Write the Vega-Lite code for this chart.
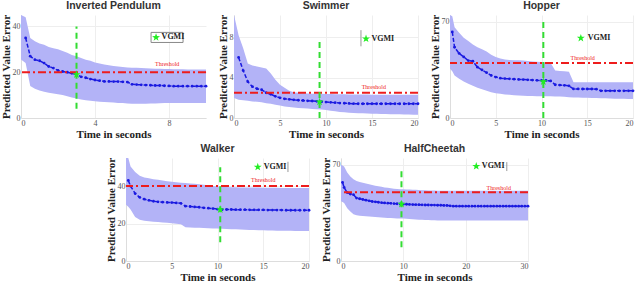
{
"$schema":"https://vega.github.io/schema/vega-lite/v6.json",
"padding":{"left":0,"top":0,"right":2,"bottom":2},
"background":"white",
"config":{
 "view":{"stroke":null},
 "axis":{"labelFont":"Liberation Serif","labelFontSize":8,"labelColor":"#555","labelPadding":1,"titleFont":"Liberation Serif","titleFontSize":11,"titleFontWeight":"bold","titleColor":"#222","titlePadding":1,"grid":true,"gridColor":"#eeeeee","ticks":false,"domainColor":"#dddddd"},
 "title":{"font":"Liberation Sans","fontSize":10.5,"fontWeight":"bold","color":"#333","offset":3}
},
"vconcat":[
{"hconcat":[
 {"width":185,"height":103,"title":"Inverted Pendulum",
  "data":{"values":[{"t":0,"lo":25.6,"hi":45},{"t":0.25,"m":35,"lo":24,"hi":44},{"t":0.5,"m":27,"lo":14,"hi":35},{"t":0.75,"m":25.5,"lo":12.8,"hi":33.5},{"t":1,"m":25,"lo":12,"hi":32.5},{"t":1.25,"m":24,"lo":11.5,"hi":32},{"t":1.5,"m":22.5,"lo":11,"hi":31},{"t":1.75,"m":21.8,"lo":10.7,"hi":30.5},{"t":2,"m":20.8,"lo":10.4,"hi":30},{"t":2.25,"m":20.3,"lo":10,"hi":29.3},{"t":2.5,"m":20,"lo":9.5,"hi":28.5},{"t":2.75,"m":19.5,"lo":9,"hi":27.5},{"t":3,"m":19,"lo":8.5,"hi":27},{"t":3.25,"m":18,"lo":8.1,"hi":26.2},{"t":3.5,"m":17.6,"lo":7.8,"hi":25.5},{"t":3.75,"m":17,"lo":7.5,"hi":25},{"t":4,"m":16.6,"lo":7.3,"hi":24.3},{"t":4.25,"m":16.3,"lo":7.1,"hi":23.8},{"t":4.5,"m":16,"lo":7,"hi":23.4},{"t":4.75,"m":16,"lo":6.9,"hi":23},{"t":5,"m":15.9,"lo":6.8,"hi":22.7},{"t":5.25,"m":15.9,"lo":6.6,"hi":22.5},{"t":5.5,"m":15.8,"lo":6.5,"hi":22.3},{"t":5.75,"m":15.7,"lo":6.3,"hi":22.1},{"t":6,"m":14.7,"lo":6.2,"hi":22},{"t":6.25,"m":14.6,"lo":6.2,"hi":21.9},{"t":6.5,"m":14.5,"lo":6.2,"hi":21.8},{"t":6.75,"m":14.4,"lo":6.2,"hi":21.7},{"t":7,"m":14.3,"lo":6.3,"hi":21.6},{"t":7.25,"m":14.2,"lo":6.3,"hi":21.5},{"t":7.5,"m":14.2,"lo":6.4,"hi":21.5},{"t":7.75,"m":14.1,"lo":6.5,"hi":21.4},{"t":8,"m":14,"lo":6.5,"hi":21.4},{"t":8.25,"m":13.9,"lo":6.6,"hi":21.3},{"t":8.5,"m":13.9,"lo":6.6,"hi":21.3},{"t":8.75,"m":13.9,"lo":6.6,"hi":21.3},{"t":9,"m":13.9,"lo":6.6,"hi":21.2},{"t":9.25,"m":13.9,"lo":6.6,"hi":21.2},{"t":9.5,"m":13.9,"lo":6.6,"hi":21.2},{"t":9.75,"m":13.9,"lo":6.6,"hi":21.2},{"t":10,"m":13.9,"lo":6.6,"hi":21.2}]},
  "layer":[
  {"mark":{"type":"area","color":"#b3b3f7"},"encoding":{"x":{"field":"t","type":"quantitative","scale":{"domain":[0,10],"nice":false},"axis":{"values":[0,2,4,6,8,10],"title":"Time in seconds"}},"y":{"field":"lo","type":"quantitative","scale":{"domain":[0,45],"nice":false},"axis":{"values":[0,5,10,15,20,25,30,35,40,45],"title":"Predicted Value Error"}},"y2":{"field":"hi"}}},
  {"transform":[{"filter":"isValid(datum.m)"}],"mark":{"type":"line","color":"#1a1ae0","strokeWidth":1.5,"strokeDash":[4,2]},"encoding":{"x":{"field":"t","type":"quantitative"},"y":{"field":"m","type":"quantitative"}}},
  {"transform":[{"filter":"isValid(datum.m)"}],"mark":{"type":"point","filled":true,"size":8,"color":"#1a1ae0","opacity":1},"encoding":{"x":{"field":"t","type":"quantitative"},"y":{"field":"m","type":"quantitative"}}},
  {"data":{"values":[{"thr":20}]},"mark":{"type":"rule","color":"#ee1c1c","strokeWidth":2,"strokeDash":[8,3,2,3]},"encoding":{"y":{"field":"thr","type":"quantitative"}}},
  {"data":{"values":[{"x":7.9,"y":23.8,"s":"Threshold"}]},"mark":{"type":"text","color":"#ee2222","fontSize":6,"font":"Liberation Serif"},"encoding":{"x":{"field":"x","type":"quantitative"},"y":{"field":"y","type":"quantitative"},"text":{"field":"s"}}},
  {"data":{"values":[{"x":3,"a":4,"b":40}]},"mark":{"type":"rule","color":"#33dd33","strokeWidth":2,"strokeDash":[6,4]},"encoding":{"x":{"field":"x","type":"quantitative"},"y":{"field":"a","type":"quantitative"},"y2":{"field":"b"}}},
  {"data":{"values":[{"x1":7.03,"x2":8.76,"y1":33,"y2":37.4}]},"mark":{"type":"rect","fill":"white","stroke":"#888888","strokeWidth":1},"encoding":{"x":{"field":"x1","type":"quantitative"},"x2":{"field":"x2"},"y":{"field":"y1","type":"quantitative"},"y2":{"field":"y2"}}},
  {"data":{"values":[{"x":3,"y":19},{"x":7.3,"y":35.2}]},"mark":{"type":"point","shape":"M0,-1L0.235,-0.324L0.951,-0.309L0.38,0.124L0.588,0.809L0,0.4L-0.588,0.809L-0.38,0.124L-0.951,-0.309L-0.235,-0.324Z","filled":true,"size":70,"color":"#22ee22","opacity":1},"encoding":{"x":{"field":"x","type":"quantitative"},"y":{"field":"y","type":"quantitative"}}},
  {"data":{"values":[{"x":7.6,"y":35.2,"s":"VGMI"}]},"mark":{"type":"text","align":"left","baseline":"middle","fontSize":8,"fontWeight":"bold","font":"Liberation Serif","color":"#222"},"encoding":{"x":{"field":"x","type":"quantitative"},"y":{"field":"y","type":"quantitative"},"text":{"field":"s"}}}
 ]},
 {"width":184,"height":103,"title":"Swimmer",
  "data":{"values":[{"t":0,"lo":1.97,"hi":10.2},{"t":0.5,"m":6.0,"lo":1.8,"hi":8.2},{"t":1,"m":4.7,"lo":1.75,"hi":6.9},{"t":1.5,"m":3.6,"lo":1.7,"hi":5.4},{"t":2,"m":3.1,"lo":1.64,"hi":5.2},{"t":2.5,"m":2.9,"lo":1.6,"hi":5.1},{"t":3,"m":2.8,"lo":1.55,"hi":5.0},{"t":3.5,"m":2.5,"lo":1.45,"hi":4.9},{"t":4,"m":2.35,"lo":1.4,"hi":4.4},{"t":4.5,"m":2.15,"lo":1.3,"hi":3.8},{"t":5,"m":2.0,"lo":1.25,"hi":3.3},{"t":5.5,"m":1.9,"lo":1.15,"hi":3.0},{"t":6,"m":1.85,"lo":1.1,"hi":2.7},{"t":6.5,"m":1.8,"lo":1.05,"hi":2.55},{"t":7,"m":1.76,"lo":1.0,"hi":2.5},{"t":7.5,"m":1.73,"lo":0.97,"hi":2.46},{"t":8,"m":1.7,"lo":0.93,"hi":2.43},{"t":8.5,"m":1.68,"lo":0.9,"hi":2.41},{"t":9,"m":1.65,"lo":0.87,"hi":2.4},{"t":9.5,"m":1.62,"lo":0.83,"hi":2.39},{"t":10,"m":1.58,"lo":0.78,"hi":2.38},{"t":10.5,"m":1.55,"lo":0.72,"hi":2.37},{"t":11,"m":1.52,"lo":0.66,"hi":2.36},{"t":11.5,"m":1.48,"lo":0.6,"hi":2.35},{"t":12,"m":1.46,"lo":0.56,"hi":2.34},{"t":12.5,"m":1.44,"lo":0.53,"hi":2.33},{"t":13,"m":1.42,"lo":0.5,"hi":2.33},{"t":13.5,"m":1.41,"lo":0.48,"hi":2.32},{"t":14,"m":1.41,"lo":0.46,"hi":2.32},{"t":14.5,"m":1.41,"lo":0.44,"hi":2.32},{"t":15,"m":1.41,"lo":0.42,"hi":2.31},{"t":15.5,"m":1.41,"lo":0.41,"hi":2.31},{"t":16,"m":1.41,"lo":0.4,"hi":2.31},{"t":16.5,"m":1.41,"lo":0.39,"hi":2.3},{"t":17,"m":1.41,"lo":0.38,"hi":2.3},{"t":17.5,"m":1.41,"lo":0.37,"hi":2.3},{"t":18,"m":1.41,"lo":0.36,"hi":2.3},{"t":18.5,"m":1.41,"lo":0.35,"hi":2.3},{"t":19,"m":1.41,"lo":0.34,"hi":2.3},{"t":19.5,"m":1.41,"lo":0.33,"hi":2.3},{"t":20,"m":1.41,"lo":0.33,"hi":2.3}]},
  "layer":[
  {"mark":{"type":"area","color":"#b3b3f7"},"encoding":{"x":{"field":"t","type":"quantitative","scale":{"domain":[0,20],"nice":false},"axis":{"values":[0,5,10,15,20],"title":"Time in seconds"}},"y":{"field":"lo","type":"quantitative","scale":{"domain":[0,10.2],"nice":false},"axis":{"values":[0,2,4,6,8],"title":"Predicted Value Error"}},"y2":{"field":"hi"}}},
  {"transform":[{"filter":"isValid(datum.m)"}],"mark":{"type":"line","color":"#1a1ae0","strokeWidth":1.5,"strokeDash":[4,2]},"encoding":{"x":{"field":"t","type":"quantitative"},"y":{"field":"m","type":"quantitative"}}},
  {"transform":[{"filter":"isValid(datum.m)"}],"mark":{"type":"point","filled":true,"size":8,"color":"#1a1ae0","opacity":1},"encoding":{"x":{"field":"t","type":"quantitative"},"y":{"field":"m","type":"quantitative"}}},
  {"data":{"values":[{"thr":2.5}]},"mark":{"type":"rule","color":"#ee1c1c","strokeWidth":2,"strokeDash":[8,3,2,3]},"encoding":{"y":{"field":"thr","type":"quantitative"}}},
  {"data":{"values":[{"x":15.2,"y":3.1,"s":"Threshold"}]},"mark":{"type":"text","color":"#ee2222","fontSize":6,"font":"Liberation Serif"},"encoding":{"x":{"field":"x","type":"quantitative"},"y":{"field":"y","type":"quantitative"},"text":{"field":"s"}}},
  {"data":{"values":[{"x":9.3,"a":0,"b":7.9}]},"mark":{"type":"rule","color":"#33dd33","strokeWidth":2,"strokeDash":[6,4]},"encoding":{"x":{"field":"x","type":"quantitative"},"y":{"field":"a","type":"quantitative"},"y2":{"field":"b"}}},
  {"data":{"values":[{"x":13.8,"a":7.1,"b":8.7}]},"mark":{"type":"rule","color":"#999999","strokeWidth":1},"encoding":{"x":{"field":"x","type":"quantitative"},"y":{"field":"a","type":"quantitative"},"y2":{"field":"b"}}},
  {"data":{"values":[{"x":9.3,"y":1.6},{"x":14.35,"y":7.85}]},"mark":{"type":"point","shape":"M0,-1L0.235,-0.324L0.951,-0.309L0.38,0.124L0.588,0.809L0,0.4L-0.588,0.809L-0.38,0.124L-0.951,-0.309L-0.235,-0.324Z","filled":true,"size":70,"color":"#22ee22","opacity":1},"encoding":{"x":{"field":"x","type":"quantitative"},"y":{"field":"y","type":"quantitative"}}},
  {"data":{"values":[{"x":14.95,"y":7.85,"s":"VGMI"}]},"mark":{"type":"text","align":"left","baseline":"middle","fontSize":8,"fontWeight":"bold","font":"Liberation Serif","color":"#222"},"encoding":{"x":{"field":"x","type":"quantitative"},"y":{"field":"y","type":"quantitative"},"text":{"field":"s"}}}
 ]},
 {"width":183,"height":103,"title":"Hopper",
  "data":{"values":[{"t":0,"lo":35.8,"hi":75},{"t":0.25,"m":62.7,"lo":34,"hi":74},{"t":0.5,"m":51.5,"lo":31,"hi":66},{"t":1,"m":47,"lo":28.5,"hi":62},{"t":1.5,"m":44.5,"lo":26.5,"hi":58.5},{"t":2,"m":41.8,"lo":25,"hi":56},{"t":2.5,"m":41.3,"lo":23.5,"hi":53.5},{"t":3,"m":37,"lo":22,"hi":51.5},{"t":3.5,"m":35,"lo":21,"hi":50},{"t":4,"m":33,"lo":19.8,"hi":48.5},{"t":4.5,"m":31,"lo":18.8,"hi":46},{"t":5,"m":29.8,"lo":18,"hi":44.5},{"t":5.5,"m":29,"lo":17.6,"hi":43.3},{"t":6,"m":28.7,"lo":17.2,"hi":42.6},{"t":6.5,"m":28.5,"lo":16.9,"hi":42.3},{"t":7,"m":28.3,"lo":16.6,"hi":42.1},{"t":7.5,"m":28.1,"lo":16.4,"hi":42},{"t":8,"m":28,"lo":16.2,"hi":41.8},{"t":8.5,"m":27.8,"lo":16.1,"hi":41.5},{"t":9,"m":27.6,"lo":16,"hi":41.2},{"t":9.5,"m":27.4,"lo":15.9,"hi":41},{"t":10,"m":27.3,"lo":15.9,"hi":40.8},{"t":10.5,"m":27.3,"lo":15.8,"hi":40.5},{"t":11,"m":27,"lo":15.8,"hi":40},{"t":11.5,"m":24.2,"lo":15.7,"hi":34.6},{"t":12,"m":24,"lo":15.6,"hi":34.3},{"t":12.5,"m":23.8,"lo":15.4,"hi":34},{"t":13,"m":23.4,"lo":15.2,"hi":33.6},{"t":13.5,"m":21.2,"lo":15,"hi":26},{"t":14,"m":21.2,"lo":14.9,"hi":26},{"t":14.5,"m":21.1,"lo":14.8,"hi":26},{"t":15,"m":21.1,"lo":14.7,"hi":26},{"t":15.5,"m":21.1,"lo":14.6,"hi":26},{"t":16,"m":21,"lo":14.5,"hi":26},{"t":16.5,"m":19.8,"lo":14.4,"hi":26},{"t":17,"m":19.8,"lo":14.3,"hi":26},{"t":17.5,"m":19.8,"lo":14.2,"hi":26},{"t":18,"m":19.8,"lo":14.1,"hi":26},{"t":18.5,"m":19.8,"lo":14,"hi":26},{"t":19,"m":19.8,"lo":14,"hi":26},{"t":19.5,"m":19.8,"lo":13.9,"hi":26},{"t":20,"m":19.8,"lo":13.9,"hi":26}]},
  "layer":[
  {"mark":{"type":"area","color":"#b3b3f7"},"encoding":{"x":{"field":"t","type":"quantitative","scale":{"domain":[0,20],"nice":false},"axis":{"values":[0,5,10,15,20],"title":"Time in seconds"}},"y":{"field":"lo","type":"quantitative","scale":{"domain":[0,75],"nice":false},"axis":{"values":[0,10,20,30,40,50,60,70],"title":"Predicted Value Error"}},"y2":{"field":"hi"}}},
  {"transform":[{"filter":"isValid(datum.m)"}],"mark":{"type":"line","color":"#1a1ae0","strokeWidth":1.5,"strokeDash":[4,2]},"encoding":{"x":{"field":"t","type":"quantitative"},"y":{"field":"m","type":"quantitative"}}},
  {"transform":[{"filter":"isValid(datum.m)"}],"mark":{"type":"point","filled":true,"size":8,"color":"#1a1ae0","opacity":1},"encoding":{"x":{"field":"t","type":"quantitative"},"y":{"field":"m","type":"quantitative"}}},
  {"data":{"values":[{"thr":40}]},"mark":{"type":"rule","color":"#ee1c1c","strokeWidth":2,"strokeDash":[8,3,2,3]},"encoding":{"y":{"field":"thr","type":"quantitative"}}},
  {"data":{"values":[{"x":14.5,"y":43.5,"s":"Threshold"}]},"mark":{"type":"text","color":"#ee2222","fontSize":6,"font":"Liberation Serif"},"encoding":{"x":{"field":"x","type":"quantitative"},"y":{"field":"y","type":"quantitative"},"text":{"field":"s"}}},
  {"data":{"values":[{"x":10.2,"a":0,"b":71}]},"mark":{"type":"rule","color":"#33dd33","strokeWidth":2,"strokeDash":[6,4]},"encoding":{"x":{"field":"x","type":"quantitative"},"y":{"field":"a","type":"quantitative"},"y2":{"field":"b"}}},
  {"data":{"values":[{"x":10.2,"y":26.5},{"x":14.3,"y":58.2}]},"mark":{"type":"point","shape":"M0,-1L0.235,-0.324L0.951,-0.309L0.38,0.124L0.588,0.809L0,0.4L-0.588,0.809L-0.38,0.124L-0.951,-0.309L-0.235,-0.324Z","filled":true,"size":70,"color":"#22ee22","opacity":1},"encoding":{"x":{"field":"x","type":"quantitative"},"y":{"field":"y","type":"quantitative"}}},
  {"data":{"values":[{"x":15.05,"y":58.2,"s":"VGMI"}]},"mark":{"type":"text","align":"left","baseline":"middle","fontSize":8,"fontWeight":"bold","font":"Liberation Serif","color":"#222"},"encoding":{"x":{"field":"x","type":"quantitative"},"y":{"field":"y","type":"quantitative"},"text":{"field":"s"}}}
 ]}
],"spacing":8},
{"hconcat":[
 {"width":183,"height":103,"title":"Walker",
  "data":{"values":[{"t":0,"lo":30,"hi":55},{"t":0.25,"m":43,"lo":29,"hi":55},{"t":0.5,"m":40,"lo":27.5,"hi":50.5},{"t":1,"m":36,"lo":23.5,"hi":47.5},{"t":1.5,"m":34,"lo":22,"hi":45.5},{"t":2,"m":33,"lo":21.5,"hi":44.6},{"t":2.5,"m":32.4,"lo":21.2,"hi":44.2},{"t":3,"m":31.9,"lo":21,"hi":43.7},{"t":3.5,"m":31.6,"lo":20.8,"hi":43.4},{"t":4,"m":31.4,"lo":20.6,"hi":43},{"t":4.5,"m":31.3,"lo":20.4,"hi":42.6},{"t":5,"m":31.2,"lo":20.2,"hi":42.3},{"t":5.5,"m":31,"lo":19.9,"hi":42},{"t":6,"m":30.8,"lo":19.6,"hi":41.8},{"t":6.5,"m":29.3,"lo":18,"hi":41.6},{"t":7,"m":29.1,"lo":17.9,"hi":41.4},{"t":7.5,"m":28.9,"lo":17.8,"hi":41.2},{"t":8,"m":28.7,"lo":17.7,"hi":41},{"t":8.5,"m":28.4,"lo":17.6,"hi":40.7},{"t":9,"m":28.2,"lo":17.5,"hi":40.4},{"t":9.5,"m":28,"lo":17.4,"hi":40.1},{"t":10,"m":27.7,"lo":17.3,"hi":39.8},{"t":10.5,"m":27.5,"lo":17.2,"hi":39.6},{"t":11,"m":27.5,"lo":17.1,"hi":39.5},{"t":11.5,"m":27.5,"lo":17,"hi":39.4},{"t":12,"m":27.4,"lo":16.9,"hi":39.4},{"t":12.5,"m":27.4,"lo":16.8,"hi":39.3},{"t":13,"m":27.4,"lo":16.7,"hi":39.3},{"t":13.5,"m":27.3,"lo":16.6,"hi":39.2},{"t":14,"m":27.3,"lo":16.5,"hi":39.2},{"t":14.5,"m":27.3,"lo":16.4,"hi":39.2},{"t":15,"m":27.3,"lo":16.4,"hi":39.1},{"t":15.5,"m":27.2,"lo":16.3,"hi":39.1},{"t":16,"m":27.2,"lo":16.3,"hi":39.1},{"t":16.5,"m":27.2,"lo":16.2,"hi":39.1},{"t":17,"m":27.2,"lo":16.2,"hi":39},{"t":17.5,"m":27.1,"lo":16.1,"hi":39},{"t":18,"m":27.1,"lo":16.1,"hi":39},{"t":18.5,"m":27.1,"lo":16,"hi":39},{"t":19,"m":27.1,"lo":16,"hi":39},{"t":19.5,"m":27.1,"lo":16,"hi":39},{"t":20,"m":27.1,"lo":16,"hi":39}]},
  "layer":[
  {"mark":{"type":"area","color":"#b3b3f7"},"encoding":{"x":{"field":"t","type":"quantitative","scale":{"domain":[0,20],"nice":false},"axis":{"values":[0,5,10,15,20],"title":"Time in seconds"}},"y":{"field":"lo","type":"quantitative","scale":{"domain":[0,55],"nice":false},"axis":{"values":[0,10,20,30,40,50],"title":"Predicted Value Error"}},"y2":{"field":"hi"}}},
  {"transform":[{"filter":"isValid(datum.m)"}],"mark":{"type":"line","color":"#1a1ae0","strokeWidth":1.5,"strokeDash":[4,2]},"encoding":{"x":{"field":"t","type":"quantitative"},"y":{"field":"m","type":"quantitative"}}},
  {"transform":[{"filter":"isValid(datum.m)"}],"mark":{"type":"point","filled":true,"size":8,"color":"#1a1ae0","opacity":1},"encoding":{"x":{"field":"t","type":"quantitative"},"y":{"field":"m","type":"quantitative"}}},
  {"data":{"values":[{"thr":40}]},"mark":{"type":"rule","color":"#ee1c1c","strokeWidth":2,"strokeDash":[8,3,2,3]},"encoding":{"y":{"field":"thr","type":"quantitative"}}},
  {"data":{"values":[{"x":15,"y":43,"s":"Threshold"}]},"mark":{"type":"text","color":"#ee2222","fontSize":6,"font":"Liberation Serif"},"encoding":{"x":{"field":"x","type":"quantitative"},"y":{"field":"y","type":"quantitative"},"text":{"field":"s"}}},
  {"data":{"values":[{"x":10.3,"a":10,"b":50}]},"mark":{"type":"rule","color":"#33dd33","strokeWidth":2,"strokeDash":[6,4]},"encoding":{"x":{"field":"x","type":"quantitative"},"y":{"field":"a","type":"quantitative"},"y2":{"field":"b"}}},
  {"data":{"values":[{"x":17.7,"a":47.5,"b":53}]},"mark":{"type":"rule","color":"#999999","strokeWidth":1},"encoding":{"x":{"field":"x","type":"quantitative"},"y":{"field":"a","type":"quantitative"},"y2":{"field":"b"}}},
  {"data":{"values":[{"x":10.3,"y":27.5},{"x":14.4,"y":50.2}]},"mark":{"type":"point","shape":"M0,-1L0.235,-0.324L0.951,-0.309L0.38,0.124L0.588,0.809L0,0.4L-0.588,0.809L-0.38,0.124L-0.951,-0.309L-0.235,-0.324Z","filled":true,"size":70,"color":"#22ee22","opacity":1},"encoding":{"x":{"field":"x","type":"quantitative"},"y":{"field":"y","type":"quantitative"}}},
  {"data":{"values":[{"x":15.05,"y":50.2,"s":"VGMI"}]},"mark":{"type":"text","align":"left","baseline":"middle","fontSize":8,"fontWeight":"bold","font":"Liberation Serif","color":"#222"},"encoding":{"x":{"field":"x","type":"quantitative"},"y":{"field":"y","type":"quantitative"},"text":{"field":"s"}}}
 ]},
 {"width":187,"height":103,"title":"HalfCheetah",
  "data":{"values":[{"t":0,"lo":43.5,"hi":70},{"t":0.25,"m":57.2,"lo":43,"hi":69.5},{"t":0.5,"m":53.5,"lo":42.3,"hi":68.8},{"t":1,"m":49.8,"lo":38.5,"hi":64.5},{"t":1.5,"m":48.8,"lo":36,"hi":61.5},{"t":2,"m":48.3,"lo":34,"hi":59.5},{"t":2.5,"m":45.8,"lo":33.3,"hi":58.3},{"t":3,"m":45.3,"lo":33,"hi":57.5},{"t":3.5,"m":44.8,"lo":32.8,"hi":57},{"t":4,"m":44.3,"lo":32.6,"hi":56.5},{"t":4.5,"m":43.8,"lo":32.4,"hi":55.8},{"t":5,"m":43.3,"lo":32.2,"hi":55.3},{"t":5.5,"m":43.1,"lo":32,"hi":54.8},{"t":6,"m":42.8,"lo":31.8,"hi":54.4},{"t":6.5,"m":42.5,"lo":31.7,"hi":54},{"t":7,"m":42.3,"lo":31.5,"hi":53.6},{"t":7.5,"m":42.1,"lo":31.4,"hi":53.3},{"t":8,"m":42,"lo":31.3,"hi":53},{"t":8.5,"m":41.8,"lo":31.1,"hi":52.7},{"t":9,"m":41.7,"lo":31,"hi":52.5},{"t":9.5,"m":41.5,"lo":31,"hi":52.3},{"t":10,"m":41.4,"lo":30.9,"hi":52.2},{"t":10.5,"m":41.3,"lo":30.7,"hi":52.1},{"t":11,"m":41.2,"lo":30.6,"hi":52},{"t":11.5,"m":41.1,"lo":30.4,"hi":51.9},{"t":12,"m":41,"lo":30.3,"hi":51.8},{"t":12.5,"m":41,"lo":30.1,"hi":51.7},{"t":13,"m":40.9,"lo":30,"hi":51.6},{"t":13.5,"m":40.8,"lo":29.9,"hi":51.5},{"t":14,"m":40.8,"lo":29.8,"hi":51.4},{"t":14.5,"m":40.7,"lo":29.7,"hi":51.3},{"t":15,"m":40.7,"lo":29.6,"hi":51.3},{"t":15.5,"m":40.6,"lo":29.5,"hi":51.2},{"t":16,"m":40.6,"lo":29.5,"hi":51.2},{"t":16.5,"m":40.5,"lo":29.5,"hi":51.2},{"t":17,"m":40.4,"lo":29.5,"hi":51.2},{"t":17.5,"m":40.2,"lo":29.5,"hi":51.2},{"t":18,"m":39.9,"lo":29.5,"hi":51.2},{"t":18.5,"m":39.9,"lo":29.5,"hi":51.2},{"t":19,"m":39.9,"lo":29.5,"hi":51.2},{"t":19.5,"m":39.9,"lo":29.5,"hi":51.2},{"t":20,"m":39.9,"lo":29.5,"hi":51.2},{"t":20.5,"m":39.9,"lo":29.5,"hi":51.2},{"t":21,"m":39.9,"lo":29.5,"hi":51.2},{"t":21.5,"m":39.9,"lo":29.5,"hi":51.2},{"t":22,"m":39.9,"lo":29.5,"hi":51.2},{"t":22.5,"m":39.9,"lo":29.5,"hi":51.2},{"t":23,"m":39.9,"lo":29.5,"hi":51.2},{"t":23.5,"m":39.9,"lo":29.5,"hi":51.2},{"t":24,"m":39.9,"lo":29.5,"hi":51.2},{"t":24.5,"m":39.9,"lo":29.5,"hi":51.2},{"t":25,"m":39.9,"lo":29.5,"hi":51.2},{"t":25.5,"m":39.9,"lo":29.5,"hi":51.2},{"t":26,"m":39.9,"lo":29.5,"hi":51.2},{"t":26.5,"m":39.9,"lo":29.5,"hi":51.2},{"t":27,"m":39.9,"lo":29.5,"hi":51.2},{"t":27.5,"m":39.9,"lo":29.5,"hi":51.2},{"t":28,"m":39.9,"lo":29.5,"hi":51.2},{"t":28.5,"m":39.9,"lo":29.5,"hi":51.2},{"t":29,"m":39.9,"lo":29.5,"hi":51.2},{"t":29.5,"m":39.9,"lo":29.5,"hi":51.2},{"t":30,"m":39.9,"lo":29.5,"hi":51.2}]},
  "layer":[
  {"mark":{"type":"area","color":"#b3b3f7"},"encoding":{"x":{"field":"t","type":"quantitative","scale":{"domain":[0,30],"nice":false},"axis":{"values":[0,5,10,15,20,25,30],"title":"Time in seconds"}},"y":{"field":"lo","type":"quantitative","scale":{"domain":[0,75],"nice":false},"axis":{"values":[0,10,20,30,40,50,60,70],"title":"Predicted Value Error"}},"y2":{"field":"hi"}}},
  {"transform":[{"filter":"isValid(datum.m)"}],"mark":{"type":"line","color":"#1a1ae0","strokeWidth":1.5,"strokeDash":[4,2]},"encoding":{"x":{"field":"t","type":"quantitative"},"y":{"field":"m","type":"quantitative"}}},
  {"transform":[{"filter":"isValid(datum.m)"}],"mark":{"type":"point","filled":true,"size":8,"color":"#1a1ae0","opacity":1},"encoding":{"x":{"field":"t","type":"quantitative"},"y":{"field":"m","type":"quantitative"}}},
  {"data":{"values":[{"thr":50}]},"mark":{"type":"rule","color":"#ee1c1c","strokeWidth":2,"strokeDash":[8,3,2,3]},"encoding":{"y":{"field":"thr","type":"quantitative"}}},
  {"data":{"values":[{"x":25.3,"y":53,"s":"Threshold"}]},"mark":{"type":"text","color":"#ee2222","fontSize":6,"font":"Liberation Serif"},"encoding":{"x":{"field":"x","type":"quantitative"},"y":{"field":"y","type":"quantitative"},"text":{"field":"s"}}},
  {"data":{"values":[{"x":9.7,"a":10,"b":68}]},"mark":{"type":"rule","color":"#33dd33","strokeWidth":2,"strokeDash":[6,4]},"encoding":{"x":{"field":"x","type":"quantitative"},"y":{"field":"a","type":"quantitative"},"y2":{"field":"b"}}},
  {"data":{"values":[{"x":26.6,"a":65.5,"b":72}]},"mark":{"type":"rule","color":"#999999","strokeWidth":1},"encoding":{"x":{"field":"x","type":"quantitative"},"y":{"field":"a","type":"quantitative"},"y2":{"field":"b"}}},
  {"data":{"values":[{"x":9.7,"y":41.5},{"x":21.7,"y":69}]},"mark":{"type":"point","shape":"M0,-1L0.235,-0.324L0.951,-0.309L0.38,0.124L0.588,0.809L0,0.4L-0.588,0.809L-0.38,0.124L-0.951,-0.309L-0.235,-0.324Z","filled":true,"size":70,"color":"#22ee22","opacity":1},"encoding":{"x":{"field":"x","type":"quantitative"},"y":{"field":"y","type":"quantitative"}}},
  {"data":{"values":[{"x":22.6,"y":69,"s":"VGMI"}]},"mark":{"type":"text","align":"left","baseline":"middle","fontSize":8,"fontWeight":"bold","font":"Liberation Serif","color":"#222"},"encoding":{"x":{"field":"x","type":"quantitative"},"y":{"field":"y","type":"quantitative"},"text":{"field":"s"}}}
 ]}
],"spacing":8}
],
"spacing":4,
"center":true
}
